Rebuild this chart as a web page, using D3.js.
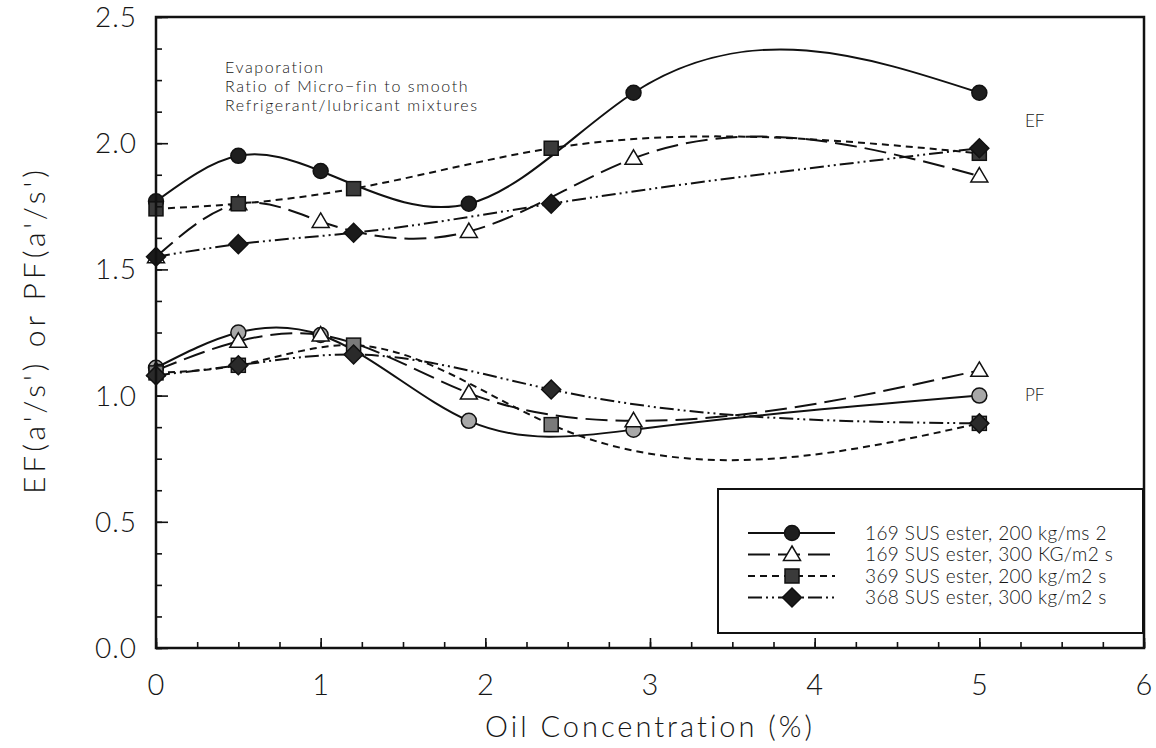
<!DOCTYPE html>
<html>
<head>
<meta charset="utf-8">
<script src="https://cdn.jsdelivr.net/npm/d3@7"></script>
<style>
  body { margin: 0; background: #fff; }
  text { font-family: Lato, "Open Sans", sans-serif; font-weight: 300; fill: #161616; }
</style>
</head>
<body>
<div id="chart"></div>
<script>
// x positions of the measured points
var xRoundSeries = [0, 0.5, 1, 1.9, 2.9, 5];
var xBoxSeries = [0, 0.5, 1.2, 2.4, 5];

// EF ratio
var circleEF = [1.77, 1.95, 1.89, 1.76, 2.20, 2.20];
var triangleEF = [1.55, 1.76, 1.69, 1.65, 1.94, 1.87];
var squareEF = [1.74, 1.76, 1.82, 1.98, 1.96];
var diamondEF = [1.55, 1.60, 1.645, 1.76, 1.98];

// PF ratio
var circlePF = [1.11, 1.25, 1.24, 0.90, 0.865, 1.00];
var trianglePF = [1.10, 1.215, 1.24, 1.01, 0.90, 1.10];
var squarePF = [1.09, 1.12, 1.20, 0.885, 0.89];
var diamondPF = [1.08, 1.12, 1.163, 1.024, 0.89];

var seriesNames = [
  "169 SUS ester, 200 kg/ms 2",
  "169 SUS ester, 300 KG/m2 s",
  "369 SUS ester, 200 kg/m2 s",
  "368 SUS ester, 300 kg/m2 s"
];
var xTicks = [0, 1, 2, 3, 4, 5, 6];
var yTicks = [0, 0.5, 1.0, 1.5, 2.0, 2.5];
var notes = ["Evaporation", "Ratio of Micro\u2212fin to smooth", "Refrigerant/lubricant mixtures"];

(function () {
  "use strict";

  var w = 1156, h = 748;
  var mLeft = 156, mRight = 1144, mTop = 17, mBottom = 648;

  var svg = d3.select("#chart").append("svg")
    .attr("width", w)
    .attr("height", h);

  var x = d3.scaleLinear().domain([0, 6]).range([mLeft, mRight]);
  var y = d3.scaleLinear().domain([0, 2.5]).range([mBottom, mTop]);

  // styles per series: dash, marker, fill for EF and PF groups
  var styles = [
    { dash: null, shape: "circle", fillEF: "#1e1e1e", fillPF: "#a8a8a8" },
    { dash: "22,8", shape: "triangle", fillEF: "#fff", fillPF: "#fff" },
    { dash: "7,5", shape: "square", fillEF: "#3a3a3a", fillPF: "#7a7a7a" },
    { dash: "14,4,2,4,2,4", shape: "diamond", fillEF: "#1a1a1a", fillPF: "#2a2a2a" }
  ];

  // natural cubic spline of y as a function of x (like the old plotting package),
  // written as a d3 curve so d3.line still does the drawing
  function SplineX(context) { this._context = context; }
  SplineX.prototype = {
    areaStart: function () {},
    areaEnd: function () {},
    lineStart: function () { this._x = []; this._y = []; },
    point: function (px, py) { this._x.push(+px); this._y.push(+py); },
    lineEnd: function () {
      var xs = this._x, ys = this._y, n = xs.length - 1, c = this._context, i;
      if (n < 0) return;
      c.moveTo(xs[0], ys[0]);
      if (n === 0) return;
      var hh = [];
      for (i = 0; i < n; i++) hh.push(xs[i + 1] - xs[i]);
      var M = [];
      for (i = 0; i <= n; i++) M.push(0);
      if (n > 1) {
        var a = [], b = [], cc = [], r = [];
        for (i = 1; i < n; i++) {
          a.push(hh[i - 1]);
          b.push(2 * (hh[i - 1] + hh[i]));
          cc.push(hh[i]);
          r.push(6 * ((ys[i + 1] - ys[i]) / hh[i] - (ys[i] - ys[i - 1]) / hh[i - 1]));
        }
        var m = b.length;
        for (i = 1; i < m; i++) {
          var k = a[i] / b[i - 1];
          b[i] -= k * cc[i - 1];
          r[i] -= k * r[i - 1];
        }
        var sol = [];
        sol[m - 1] = r[m - 1] / b[m - 1];
        for (i = m - 2; i >= 0; i--) sol[i] = (r[i] - cc[i] * sol[i + 1]) / b[i];
        for (i = 1; i < n; i++) M[i] = sol[i - 1];
      }
      for (i = 0; i < n; i++) {
        var hi = hh[i], s = (ys[i + 1] - ys[i]) / hi;
        var d0 = s - hi * (2 * M[i] + M[i + 1]) / 6;
        var d1 = s + hi * (M[i] + 2 * M[i + 1]) / 6;
        c.bezierCurveTo(xs[i] + hi / 3, ys[i] + d0 * hi / 3, xs[i + 1] - hi / 3, ys[i + 1] - d1 * hi / 3, xs[i + 1], ys[i + 1]);
      }
    }
  };
  function curveSplineX(context) { return new SplineX(context); }

  function zip(xs, ys) {
    return xs.map(function (v, i) { return [v, ys[i]]; });
  }

  var groups = [
    { kind: "EF", lines: [zip(xRoundSeries, circleEF), zip(xRoundSeries, triangleEF), zip(xBoxSeries, squareEF), zip(xBoxSeries, diamondEF)] },
    { kind: "PF", lines: [zip(xRoundSeries, circlePF), zip(xRoundSeries, trianglePF), zip(xBoxSeries, squarePF), zip(xBoxSeries, diamondPF)] }
  ];

  var line = d3.line()
    .x(function (d) { return x(d[0]); })
    .y(function (d) { return y(d[1]); })
    .curve(curveSplineX);

  function drawMarker(g, shape, cx, cy, fill) {
    if (shape === "circle") {
      g.append("circle").attr("cx", cx).attr("cy", cy).attr("r", 7.5)
        .attr("fill", fill).attr("stroke", "#111").attr("stroke-width", 1.5);
    } else if (shape === "triangle") {
      var r = 8.5;
      g.append("path")
        .attr("d", "M" + cx + "," + (cy - r) + "L" + (cx + r) + "," + (cy + r * 0.7) + "L" + (cx - r) + "," + (cy + r * 0.7) + "Z")
        .attr("fill", fill).attr("stroke", "#111").attr("stroke-width", 1.5);
    } else if (shape === "square") {
      var a = 7;
      g.append("rect").attr("x", cx - a).attr("y", cy - a).attr("width", 2 * a).attr("height", 2 * a)
        .attr("fill", fill).attr("stroke", "#111").attr("stroke-width", 1.5);
    } else {
      var d = 9.5;
      g.append("path")
        .attr("d", "M" + cx + "," + (cy - d) + "L" + (cx + d) + "," + cy + "L" + cx + "," + (cy + d) + "L" + (cx - d) + "," + cy + "Z")
        .attr("fill", fill).attr("stroke", "#111").attr("stroke-width", 1.5);
    }
  }

  // lines first, then markers on top
  groups.forEach(function (grp) {
    grp.lines.forEach(function (pts, i) {
      svg.append("path")
        .attr("d", line(pts))
        .attr("fill", "none")
        .attr("stroke", "#111")
        .attr("stroke-width", 2)
        .attr("stroke-dasharray", styles[i].dash);
    });
  });
  groups.forEach(function (grp) {
    grp.lines.forEach(function (pts, i) {
      var g = svg.append("g");
      pts.forEach(function (p) {
        drawMarker(g, styles[i].shape, x(p[0]), y(p[1]), grp.kind === "EF" ? styles[i].fillEF : styles[i].fillPF);
      });
    });
  });

  // axes: ticks point inward
  var minorY = d3.range(0, 2.5001, 0.125);
  var minorX = d3.range(0, 6.0001, 0.25);

  function noDomain(g) { g.select(".domain").remove(); }

  svg.append("g").attr("transform", "translate(" + mLeft + ",0)")
    .call(d3.axisRight(y).tickValues(minorY).tickSize(6).tickFormat("")).call(noDomain);
  svg.append("g").attr("transform", "translate(" + mLeft + ",0)")
    .call(d3.axisRight(y).tickValues(yTicks).tickSize(12).tickFormat("")).call(noDomain);
  svg.append("g").attr("transform", "translate(0," + mBottom + ")")
    .call(d3.axisTop(x).tickValues(minorX).tickSize(6).tickFormat("")).call(noDomain);
  svg.append("g").attr("transform", "translate(0," + mBottom + ")")
    .call(d3.axisTop(x).tickValues(xTicks).tickSize(10).tickFormat("")).call(noDomain);
  svg.selectAll(".tick line").attr("stroke", "#111").attr("stroke-width", 1.6);

  // frame
  svg.append("rect")
    .attr("x", mLeft).attr("y", mTop)
    .attr("width", mRight - mLeft).attr("height", mBottom - mTop)
    .attr("fill", "none").attr("stroke", "#111").attr("stroke-width", 2.5);

  // tick labels
  svg.selectAll(".ylab").data(yTicks).enter().append("text")
    .attr("x", 137).attr("y", function (d) { return y(d); })
    .attr("dy", "0.36em").attr("text-anchor", "end")
    .style("font-size", "28px").style("letter-spacing", "1px")
    .text(function (d) { return d3.format(".1f")(d); });

  svg.selectAll(".xlab").data(xTicks).enter().append("text")
    .attr("x", function (d) { return x(d); }).attr("y", 695)
    .attr("text-anchor", "middle")
    .style("font-size", "29px")
    .text(function (d) { return d; });

  // axis titles
  svg.append("text")
    .attr("x", (mLeft + mRight) / 2).attr("y", 737)
    .attr("text-anchor", "middle")
    .style("font-size", "29px").style("letter-spacing", "3px")
    .text("Oil Concentration (%)");

  svg.append("text")
    .attr("transform", "translate(45,330) rotate(-90)")
    .attr("text-anchor", "middle")
    .style("font-size", "30px").style("letter-spacing", "4px")
    .text("EF(a'/s') or PF(a'/s')");

  // notes
  svg.selectAll(".note").data(notes).enter().append("text")
    .attr("x", 225).attr("y", function (d, i) { return 73 + i * 19; })
    .style("font-size", "16px").style("letter-spacing", "1.6px")
    .text(function (d) { return d; });

  svg.append("text").attr("x", 1025).attr("y", 127).style("font-size", "17px").text("EF");
  svg.append("text").attr("x", 1025).attr("y", 401).style("font-size", "17px").text("PF");

  // legend
  var legend = svg.append("g");
  legend.append("rect")
    .attr("x", 718).attr("y", 489).attr("width", 425).attr("height", 144)
    .attr("fill", "#fff").attr("stroke", "#111").attr("stroke-width", 2);

  seriesNames.forEach(function (name, i) {
    var ly = 533 + i * 21.5;
    legend.append("line")
      .attr("x1", 748).attr("x2", 835).attr("y1", ly).attr("y2", ly)
      .attr("stroke", "#111").attr("stroke-width", 2)
      .attr("stroke-dasharray", styles[i].dash);
    drawMarker(legend, styles[i].shape, 792, ly, styles[i].fillEF);
    legend.append("text")
      .attr("x", 865).attr("y", ly).attr("dy", "0.36em")
      .style("font-size", "19px").style("letter-spacing", "0.4px")
      .text(name);
  });
}());
</script>
</body>
</html>
